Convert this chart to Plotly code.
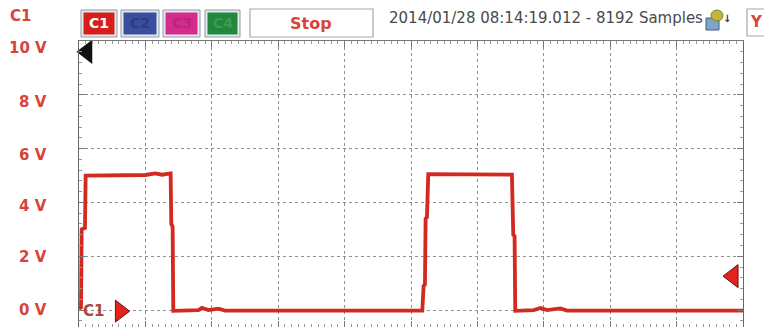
import plotly.graph_objects as go

# Captured waveform: time in screen divisions, voltage in volts
time_div = [0.00, 0.03, 0.04, 0.09, 0.10, 0.60, 1.00, 1.15, 1.25, 1.38, 1.39, 1.41, 1.42,
            1.80, 1.85, 1.95, 2.10, 2.20, 5.17, 5.19, 5.21, 5.22, 5.24, 5.26, 6.00, 6.52,
            6.54, 6.56, 6.57, 6.85, 6.95, 7.05, 7.25, 7.35, 10.00]
volts = [0.05, 0.10, 3.00, 3.05, 5.00, 5.00, 5.02, 5.08, 5.03, 5.08, 3.20, 3.10, -0.03,
         0.00, 0.08, 0.00, 0.05, -0.02, -0.02, 0.90, 0.95, 3.40, 3.45, 5.05, 5.05, 5.03,
         2.80, 2.75, -0.03, 0.00, 0.08, 0.00, 0.06, -0.02, -0.02]

y_ticks = [0, 2, 4, 6, 8, 10]
y_tick_labels = ["0 V", "2 V", "4 V", "6 V", "8 V", "10 V"]

# Indicator markers: trigger position, channel ground reference, trigger level
trig_pos = (0.12, 9.6)
ground_ref = (0.62, -0.04)
trig_level = (9.85, 1.26)

channel_names = ["C1", "C2", "C3", "C4"]
timestamp = "2014/01/28 08:14:19.012 - 8192 Samples"

W, H = 764, 327
L, R, T, B = 79, 21, 41, 0
PW, PH = W - L - R, H - T - B

RED = "#d22a20"
LABEL_RED = "#d8443a"

# the scope's scale labels sit a little below their grid lines toward the top
label_drop = [0, 1, 4, 6, 7, 7]


def px(x):
    return (x - L) / PW


def py(y):
    return (H - B - y) / PH


def label(x, y, text, size, color, anchor="center", **kw):
    return dict(xref="paper", yref="paper", x=px(x), y=py(y), xanchor=anchor,
                yanchor="middle", text=text, showarrow=False,
                font=dict(family="DejaVu Sans", size=size, color=color), **kw)


fig = go.Figure()

fig.add_trace(go.Scatter(x=time_div, y=volts, mode="lines",
                         line=dict(color=RED, width=3.8), hoverinfo="skip",
                         showlegend=False))

fig.add_trace(go.Scatter(x=[trig_pos[0]], y=[trig_pos[1]], mode="markers",
                         marker=dict(symbol="triangle-left", size=21, color="#111111"),
                         cliponaxis=False, showlegend=False, hoverinfo="skip"))
fig.add_trace(go.Scatter(x=[ground_ref[0]], y=[ground_ref[1]], mode="markers",
                         marker=dict(symbol="triangle-right", size=19, color="#e3241c",
                                     line=dict(color="#5a1a14", width=1)),
                         cliponaxis=False, showlegend=False, hoverinfo="skip"))
fig.add_trace(go.Scatter(x=[trig_level[0]], y=[trig_level[1]], mode="markers",
                         marker=dict(symbol="triangle-left", size=20, color="#e3241c",
                                     line=dict(color="#5a1a14", width=1)),
                         cliponaxis=False, showlegend=False, hoverinfo="skip"))

shapes = []
annotations = []

# Voltage scale labels
for v, txt, drop in zip(y_ticks, y_tick_labels, label_drop):
    annotations.append(dict(xref="paper", yref="y", x=px(49), y=v, yshift=-drop,
                            xanchor="right", yanchor="middle", text="<b>%s</b>" % txt,
                            showarrow=False,
                            font=dict(family="DejaVu Sans", size=15, color=LABEL_RED)))

# Channel buttons
btn_x = [(81, 117), (121, 159), (163, 200), (205, 240)]
btn_fill = ["#d61f1a", "#3b4d9e", "#d52b8b", "#22883d"]
btn_text = ["#ffffff", "#2b3c86", "#b52683", "#3f9b52"]
for (x0, x1), fill, tc, name in zip(btn_x, btn_fill, btn_text, channel_names):
    shapes.append(dict(type="rect", xref="paper", yref="paper",
                       x0=px(x0), x1=px(x1), y0=py(37), y1=py(10),
                       fillcolor="#e6eaee", line=dict(color="#8d99a6", width=1)))
    shapes.append(dict(type="rect", xref="paper", yref="paper",
                       x0=px(x0 + 2.5), x1=px(x1 - 2.5), y0=py(34.5), y1=py(12.5),
                       fillcolor=fill, line=dict(width=0)))
    annotations.append(label((x0 + x1) / 2, 23.5, "<b>%s</b>" % name, 14, tc))

# Stop box
shapes.append(dict(type="rect", xref="paper", yref="paper",
                   x0=px(250), x1=px(373), y0=py(37), y1=py(9),
                   fillcolor="#ffffff", line=dict(color="#a8a8a8", width=1.2)))
annotations.append(label(311, 23, "<b>Stop</b>", 16, LABEL_RED))

# Timestamp header
annotations.append(label(387, 18, timestamp, 15, "#4a4a4a", anchor="left"))

# Small toolbar icon
shapes.append(dict(type="rect", xref="paper", yref="paper",
                   x0=px(706), x1=px(719), y0=py(30), y1=py(18),
                   fillcolor="#7fa6c9", line=dict(color="#3e5f80", width=1)))
shapes.append(dict(type="circle", xref="paper", yref="paper",
                   x0=px(711), x1=px(723), y0=py(21), y1=py(10),
                   fillcolor="#c8b23a", line=dict(color="#6f8a2a", width=1)))
annotations.append(label(727, 18, "<b>↓</b>", 10, "#333333"))

# Y button at the right edge
shapes.append(dict(type="rect", xref="paper", yref="paper",
                   x0=px(747), x1=px(770), y0=py(36), y1=py(9),
                   fillcolor="#ffffff", line=dict(color="#a8a8a8", width=1.2)))
annotations.append(label(748, 22, "<b>Y</b>", 15, LABEL_RED, anchor="left"))

# Channel label in the corner and beside the ground reference
annotations.append(label(8, 16, "<b>C1</b>", 15, LABEL_RED, anchor="left"))
annotations.append(dict(x=ground_ref[0], y=ground_ref[1], xref="x", yref="y",
                        xanchor="right", yanchor="middle", xshift=-14,
                        text="<b>C1</b>", showarrow=False,
                        font=dict(family="DejaVu Sans", size=15, color="#a8493c")))

fig.update_layout(
    width=W, height=H,
    margin=dict(l=L, r=R, t=T, b=B),
    paper_bgcolor="#ffffff", plot_bgcolor="#ffffff",
    shapes=shapes, annotations=annotations,
    xaxis=dict(range=[0, 10], dtick=1, tick0=0, showticklabels=False,
               showgrid=True, gridcolor="#8f8f8f", griddash="dot", gridwidth=1,
               zeroline=False, showline=True, linecolor="#777777", linewidth=1,
               mirror="allticks", ticks="inside", ticklen=6, tickcolor="#777777",
               minor=dict(dtick=0.1, ticks="inside", ticklen=3, tickcolor="#999999",
                          showgrid=False)),
    yaxis=dict(range=[-0.63, 10], tickvals=y_ticks, showticklabels=False,
               showgrid=True, gridcolor="#8f8f8f", griddash="dot", gridwidth=1,
               zeroline=False, showline=True, linecolor="#666666", linewidth=1,
               mirror="allticks", ticks="inside", ticklen=6, tickcolor="#777777",
               minor=dict(dtick=0.4, tick0=0, ticks="inside", ticklen=3,
                          tickcolor="#999999", showgrid=False)),
)

fig.write_html("out.html")
